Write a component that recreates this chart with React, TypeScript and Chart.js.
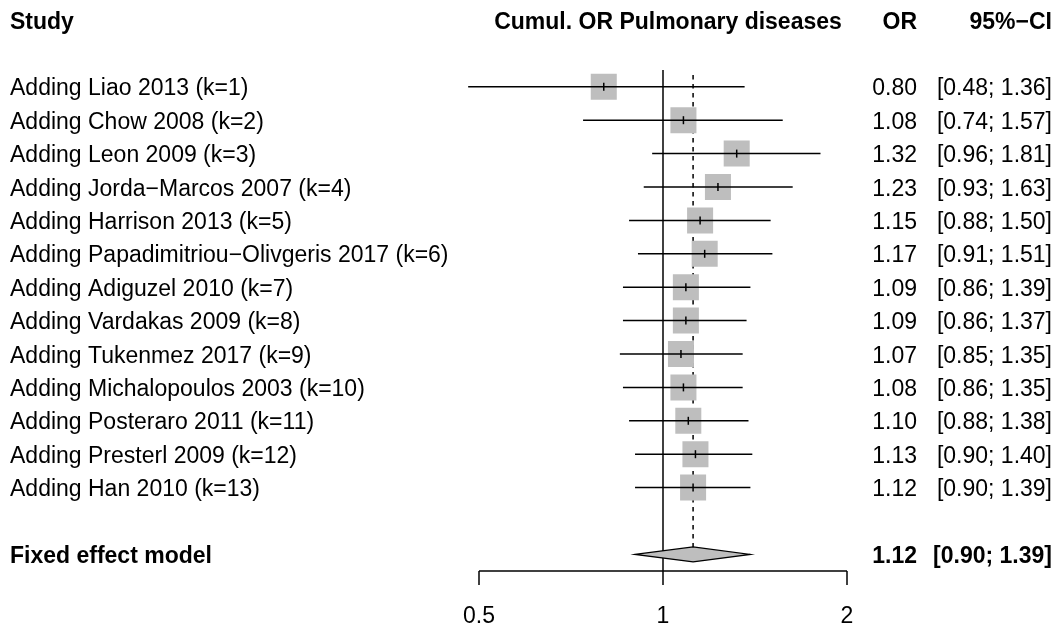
import { useEffect, useRef } from "react";
import { Chart, registerables } from "chart.js";

Chart.register(...registerables);

const studies = [
  "Adding Liao 2013 (k=1)",
  "Adding Chow 2008 (k=2)",
  "Adding Leon 2009 (k=3)",
  "Adding Jorda\u2212Marcos 2007 (k=4)",
  "Adding Harrison 2013 (k=5)",
  "Adding Papadimitriou\u2212Olivgeris 2017 (k=6)",
  "Adding Adiguzel 2010 (k=7)",
  "Adding Vardakas 2009 (k=8)",
  "Adding Tukenmez 2017 (k=9)",
  "Adding Michalopoulos 2003 (k=10)",
  "Adding Posteraro 2011 (k=11)",
  "Adding Presterl 2009 (k=12)",
  "Adding Han 2010 (k=13)",
];
const estimates = [0.8, 1.08, 1.32, 1.23, 1.15, 1.17, 1.09, 1.09, 1.07, 1.08, 1.1, 1.13, 1.12];
const lowerCI = [0.48, 0.74, 0.96, 0.93, 0.88, 0.91, 0.86, 0.86, 0.85, 0.86, 0.88, 0.9, 0.9];
const upperCI = [1.36, 1.57, 1.81, 1.63, 1.5, 1.51, 1.39, 1.37, 1.35, 1.35, 1.38, 1.4, 1.39];

const pooledLabel = "Fixed effect model";
const pooledEst = 1.12;
const pooledLower = 0.9;
const pooledUpper = 1.39;

const xTicks = [0.5, 1, 2];
const xTickLabels = ["0.5", "1", "2"];

const headers = ["Study", "Cumul. OR Pulmonary diseases", "OR", "95%\u2212CI"];

const FONT = "'Liberation Sans', Arial, Helvetica, sans-serif";
const FS = 23;

const fmt = (v: number) => v.toFixed(2);

const forestPlugin = {
  id: "forest",
  beforeDatasetsDraw(chart: any) {
    const { ctx, scales } = chart;
    const x = scales.x;
    const y = scales.y;
    const axisY = y.getPixelForValue(16.5);
    ctx.save();
    ctx.strokeStyle = "#000";
    ctx.lineWidth = 1.5;
    const x1 = x.getPixelForValue(1);
    ctx.beginPath();
    ctx.moveTo(x1, y.getPixelForValue(1.5));
    ctx.lineTo(x1, axisY);
    ctx.stroke();
    ctx.setLineDash([4.5, 4.5]);
    const xp = x.getPixelForValue(pooledEst);
    ctx.beginPath();
    ctx.moveTo(xp, y.getPixelForValue(1.65));
    ctx.lineTo(xp, y.getPixelForValue(16) - 7.5);
    ctx.stroke();
    ctx.restore();
  },
  afterDatasetsDraw(chart: any) {
    const { ctx, scales } = chart;
    const x = scales.x;
    const y = scales.y;
    ctx.save();
    ctx.strokeStyle = "#000";
    ctx.fillStyle = "#000";
    ctx.lineWidth = 1.5;
    // CI lines and centre ticks
    studies.forEach((_, i) => {
      const yy = y.getPixelForValue(i + 2);
      ctx.beginPath();
      ctx.moveTo(x.getPixelForValue(lowerCI[i]), yy);
      ctx.lineTo(x.getPixelForValue(upperCI[i]), yy);
      ctx.stroke();
      const xe = x.getPixelForValue(estimates[i]);
      ctx.beginPath();
      ctx.moveTo(xe, yy - 4);
      ctx.lineTo(xe, yy + 4);
      ctx.stroke();
    });
    // diamond
    const yd = y.getPixelForValue(16);
    ctx.beginPath();
    ctx.moveTo(x.getPixelForValue(pooledLower), yd);
    ctx.lineTo(x.getPixelForValue(pooledEst), yd - 7.5);
    ctx.lineTo(x.getPixelForValue(pooledUpper), yd);
    ctx.lineTo(x.getPixelForValue(pooledEst), yd + 7.5);
    ctx.closePath();
    ctx.fillStyle = "#BEBEBE";
    ctx.fill();
    ctx.lineWidth = 1.2;
    ctx.stroke();
    // bottom axis
    ctx.lineWidth = 1.5;
    const axisY = y.getPixelForValue(16.5);
    ctx.beginPath();
    ctx.moveTo(x.getPixelForValue(xTicks[0]), axisY);
    ctx.lineTo(x.getPixelForValue(xTicks[xTicks.length - 1]), axisY);
    ctx.stroke();
    ctx.fillStyle = "#000";
    ctx.font = `${FS}px ${FONT}`;
    ctx.textAlign = "center";
    ctx.textBaseline = "alphabetic";
    xTicks.forEach((t, i) => {
      const xt = x.getPixelForValue(t);
      ctx.beginPath();
      ctx.moveTo(xt, axisY);
      ctx.lineTo(xt, axisY + 14);
      ctx.stroke();
      ctx.fillText(xTickLabels[i], xt, axisY + 52);
    });
    // texts
    const base = (row: number) => y.getPixelForValue(row) + 8.5;
    const xStudy = 10;
    const xOR = 917;
    const xCI = 1052;
    // headers
    ctx.font = `bold ${FS}px ${FONT}`;
    ctx.textAlign = "left";
    ctx.fillText(headers[0], xStudy, base(0));
    ctx.textAlign = "center";
    ctx.fillText(headers[1], x.getPixelForValue(1) + 5, base(0));
    ctx.textAlign = "right";
    ctx.fillText(headers[2], xOR, base(0));
    ctx.fillText(headers[3], xCI, base(0));
    // rows
    ctx.font = `${FS}px ${FONT}`;
    studies.forEach((s, i) => {
      const b = base(i + 2);
      ctx.textAlign = "left";
      ctx.fillText(s, xStudy, b);
      ctx.textAlign = "right";
      ctx.fillText(fmt(estimates[i]), xOR, b);
      ctx.fillText(`[${fmt(lowerCI[i])}; ${fmt(upperCI[i])}]`, xCI, b);
    });
    // pooled
    ctx.font = `bold ${FS}px ${FONT}`;
    const bp = base(16);
    ctx.textAlign = "left";
    ctx.fillText(pooledLabel, xStudy, bp);
    ctx.textAlign = "right";
    ctx.fillText(fmt(pooledEst), xOR, bp);
    ctx.fillText(`[${fmt(pooledLower)}; ${fmt(pooledUpper)}]`, xCI, bp);
    ctx.restore();
  },
};

export default function App() {
  const ref = useRef<HTMLCanvasElement | null>(null);
  useEffect(() => {
    if (!ref.current) return;
    const chart = new Chart(ref.current, {
      type: "scatter",
      data: {
        datasets: [
          {
            data: estimates.map((e, i) => ({ x: e, y: i + 2 })),
            pointStyle: "rect",
            pointRadius: 18.4,
            pointHoverRadius: 18.4,
            backgroundColor: "#BEBEBE",
            borderWidth: 0,
            showLine: false,
          },
        ],
      },
      options: {
        animation: false,
        responsive: false,
        events: [],
        layout: { padding: { left: 295, right: 29, top: 20, bottom: 74.6 } },
        plugins: { legend: { display: false }, tooltip: { enabled: false } },
        scales: {
          x: { type: "logarithmic", min: 0.25, max: 4, display: false },
          y: { type: "linear", min: 0, max: 16, reverse: true, display: false },
        },
      },
      plugins: [forestPlugin],
    });
    return () => chart.destroy();
  }, []);
  return (
    <div style={{ position: "fixed", left: 0, top: 0, width: 1060, height: 629, background: "#fff" }}>
      <canvas ref={ref} width={1060} height={629} style={{ display: "block" }} />
    </div>
  );
}
